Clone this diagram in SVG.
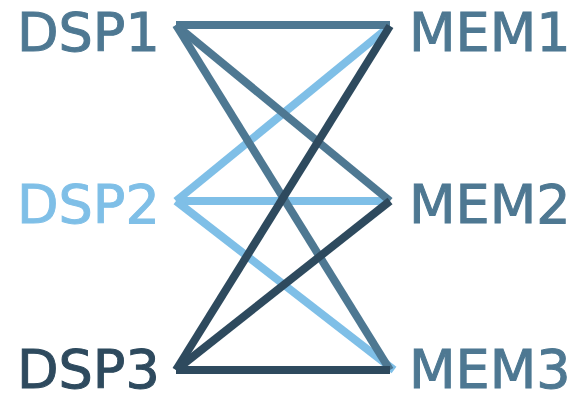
<svg xmlns="http://www.w3.org/2000/svg" width="572" height="393" viewBox="0 0 572 393">
<style>
text{font-family:"DejaVu Sans",Verdana,sans-serif;font-size:54px;stroke:none}
.c1{stroke:#4e7892;fill:#4e7892}
.c2{stroke:#7fbfe7;fill:#7fbfe7}
.c3{stroke:#2e4a5e;fill:#2e4a5e}
line{stroke-width:8;fill:none}
</style>
<rect width="572" height="393" fill="#fff"/>
<g id="connectors">
<line class="c2" x1="176" y1="201" x2="390" y2="26"/>
<line class="c2" x1="176" y1="201" x2="390" y2="201"/>
<line class="c2" x1="176" y1="201" x2="394" y2="370"/>
<line class="c1" x1="176" y1="25" x2="390" y2="25"/>
<line class="c1" x1="176" y1="25" x2="390" y2="201"/>
<line class="c1" x1="176" y1="25" x2="390" y2="370"/>
<line class="c3" x1="176" y1="370" x2="390" y2="26"/>
<line class="c3" x1="176" y1="370" x2="390" y2="201"/>
<line class="c3" x1="176" y1="370" x2="390" y2="370"/>
</g>
<g id="DSP1"><text class="c1" x="17" y="51">DSP1</text></g>
<g id="DSP2"><text class="c2" x="17" y="223">DSP2</text></g>
<g id="DSP3"><text class="c3" x="17" y="388">DSP3</text></g>
<g id="MEM1"><text class="c1" x="409" y="51">MEM1</text></g>
<g id="MEM2"><text class="c1" x="409" y="223">MEM2</text></g>
<g id="MEM3"><text class="c1" x="409" y="388">MEM3</text></g>
</svg>
